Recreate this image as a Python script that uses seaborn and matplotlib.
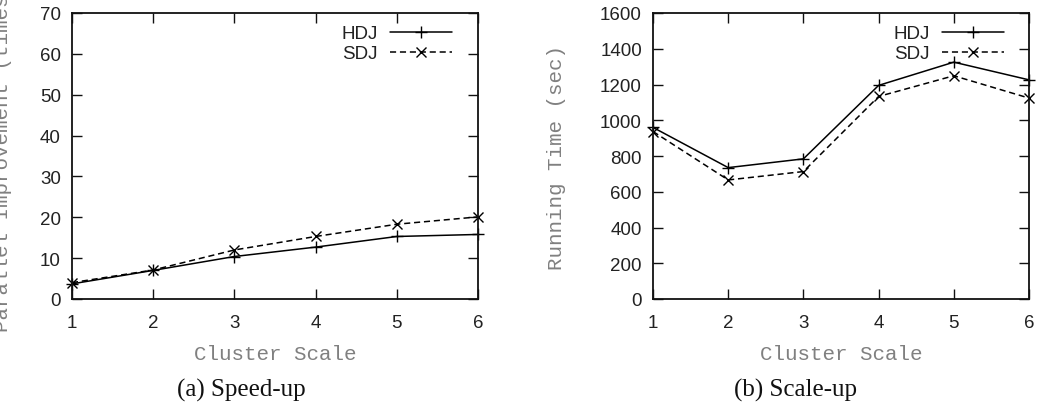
import matplotlib
matplotlib.use("Agg")
import matplotlib.pyplot as plt
import seaborn as sns
import pandas as pd

# 数据
scale = [1, 2, 3, 4, 5, 6]
speedup_hdj = [3.7, 7.0, 10.4, 12.7, 15.3, 15.8]
speedup_sdj = [4.0, 7.1, 12.0, 15.3, 18.3, 20.1]
time_hdj = [960, 735, 784, 1195, 1325, 1226]
time_sdj = [937, 666, 713, 1133, 1249, 1124]

sns.set_style("ticks")
plt.rcParams['font.family'] = ['Liberation Sans', 'DejaVu Sans']

fig = plt.figure(figsize=(10.47, 4.14), dpi=100)
W, H = 1047, 414
ax1 = fig.add_axes([72 / W, 1 - 300 / H, (478 - 72) / W, (300 - 14) / H])
ax2 = fig.add_axes([653 / W, 1 - 300 / H, (1029 - 653) / W, (300 - 14) / H])


def draw(ax, hdj, sdj, ymax, ystep, leg_x):
    df = pd.DataFrame({'x': scale + scale, 'y': hdj + sdj,
                       'algo': ['HDJ'] * 6 + ['SDJ'] * 6})
    sns.lineplot(data=df[df.algo == 'HDJ'], x='x', y='y', ax=ax, color='black',
                 lw=1.1, marker='+', markersize=8, mew=1.0,
                 markeredgecolor='black', label='HDJ', clip_on=False)
    sns.lineplot(data=df[df.algo == 'SDJ'], x='x', y='y', ax=ax, color='black',
                 lw=1.1, ls=(0, (4, 2.5)), marker='x', markersize=6.5, mew=1.0,
                 markeredgecolor='black', label='SDJ', clip_on=False)
    ax.set_xlim(1, 6)
    ax.set_ylim(0, ymax)
    ax.set_xticks(scale)
    ax.set_yticks(range(0, ymax + 1, ystep))
    ax.tick_params(direction='in', length=7, width=1, top=True, right=True,
                   labelsize=13.5, color='#111111', labelcolor='#222222')
    ax.tick_params(axis='x', pad=11)
    ax.tick_params(axis='y', pad=8)
    for s in ax.spines.values():
        s.set_visible(True)
        s.set_linewidth(1.3)
        s.set_color('#111111')
    ax.set_xlabel('Cluster Scale', family='Liberation Mono', fontsize=15,
                  color='#808080', labelpad=9)
    ax.set_ylabel('')
    leg = ax.legend(loc='upper right', frameon=False, markerfirst=False,
                    handlelength=3.3, fontsize=13.5, borderaxespad=0,
                    borderpad=0, labelspacing=0.15, handletextpad=0.65,
                    bbox_to_anchor=(leg_x, (300 - 26) / 286))
    for t in leg.get_texts():
        t.set_color('#222222')


draw(ax1, speedup_hdj, speedup_sdj, 70, 10, (452 - 72) / 406)
draw(ax2, time_hdj, time_sdj, 1600, 200, (1004 - 653) / 376)

ax1.set_ylabel('Parallel Improvement (times)', family='Liberation Mono',
               fontsize=15, color='#808080')
ax1.yaxis.set_label_coords(-0.148, 0.5)
ax2.set_ylabel('Running Time (sec)', family='Liberation Mono',
               fontsize=15, color='#808080')
ax2.yaxis.set_label_coords(-0.232, 0.5)

fig.text(241 / W, 1 - 390 / H, '(a) Speed-up', family='Liberation Serif',
         fontsize=18, ha='center', va='center', color='#111111')
fig.text(795 / W, 1 - 390 / H, '(b) Scale-up', family='Liberation Serif',
         fontsize=18, ha='center', va='center', color='#111111')

fig.savefig('out.png', dpi=100)
